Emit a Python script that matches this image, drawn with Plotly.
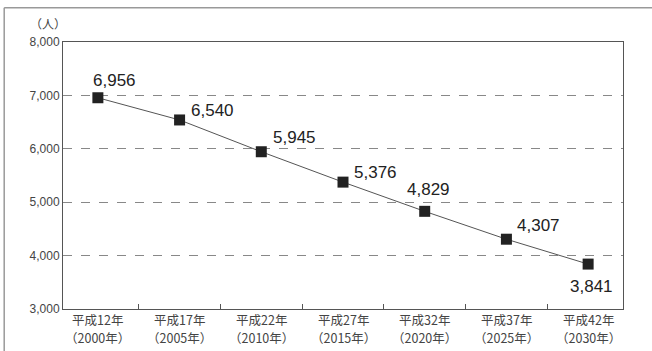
import plotly.graph_objects as go

era_labels = ["平成12年", "平成17年", "平成22年", "平成27年", "平成32年", "平成37年", "平成42年"]
year_labels = ["（2000年）", "（2005年）", "（2010年）", "（2015年）", "（2020年）", "（2025年）", "（2030年）"]
values = [6956, 6540, 5945, 5376, 4829, 4307, 3841]
label_texts = ["6,956", "6,540", "5,945", "5,376", "4,829", "4,307", "3,841"]
label_offsets = [(17, 17), (33, 9), (33, 14), (32, 10), (4, 22), (32, 14), (3, -22)]
y_ticks = [3000, 4000, 5000, 6000, 7000, 8000]
y_ticktext = ["3,000", "4,000", "5,000", "6,000", "7,000", "8,000"]

fig = go.Figure()
fig.add_trace(go.Scatter(
    x=era_labels, y=values, mode="lines+markers",
    line=dict(color="#555555", width=1),
    marker=dict(symbol="square", size=11, color="#222222"),
    hoverinfo="skip", showlegend=False,
))

for c, v, t, (dx, dy) in zip(era_labels, values, label_texts, label_offsets):
    fig.add_annotation(x=c, y=v, text=t, showarrow=False, xshift=dx, yshift=dy,
                       font=dict(family="Liberation Sans, Arial", size=17, color="#222222"))

# two-line category labels under the axis
cat_font = dict(family="Noto Sans CJK JP", size=12.5, color="#444444")
for c, yl in zip(era_labels, year_labels):
    fig.add_annotation(x=c, xref="x", yref="paper", y=0, yshift=-10.5, text=c,
                       showarrow=False, yanchor="middle", font=cat_font)
    fig.add_annotation(x=c, xref="x", yref="paper", y=0, yshift=-28.5, text=yl,
                       showarrow=False, yanchor="middle", font=cat_font)

fig.add_annotation(xref="paper", yref="paper", x=0.009, y=1.0, yshift=19, text="（人）",
                   showarrow=False, xanchor="right", yanchor="middle",
                   font=dict(family="Noto Sans CJK JP", size=12, color="#444444"))

# outer frame (top and left lines)
fig.add_shape(type="line", xref="paper", yref="paper", x0=-0.105, x1=1.06, y0=1.128, y1=1.128,
              line=dict(color="#999999", width=1.5))
fig.add_shape(type="line", xref="paper", yref="paper", x0=-0.105, x1=-0.105, y0=1.128, y1=-0.2,
              line=dict(color="#999999", width=1.5))

fig.update_xaxes(
    type="category", tickson="boundaries", ticks="inside", ticklen=5, tickcolor="#555555",
    showline=True, linecolor="#555555", linewidth=1, mirror=True, showgrid=False,
    showticklabels=False, automargin=False, fixedrange=True,
)
fig.update_yaxes(
    range=[3000, 8000], tickvals=y_ticks, ticktext=y_ticktext, ticks="",
    showline=True, linecolor="#555555", linewidth=1, mirror=True,
    showgrid=True, gridcolor="#888888", griddash="dash", gridwidth=1,
    tickfont=dict(family="Liberation Sans, Arial", size=12, color="#444444"),
    zeroline=False, automargin=False, fixedrange=True,
)
fig.update_layout(
    width=652, height=351,
    margin=dict(l=63, r=29, t=42, b=42),
    plot_bgcolor="white", paper_bgcolor="white",
)
fig.write_html("out.html")
